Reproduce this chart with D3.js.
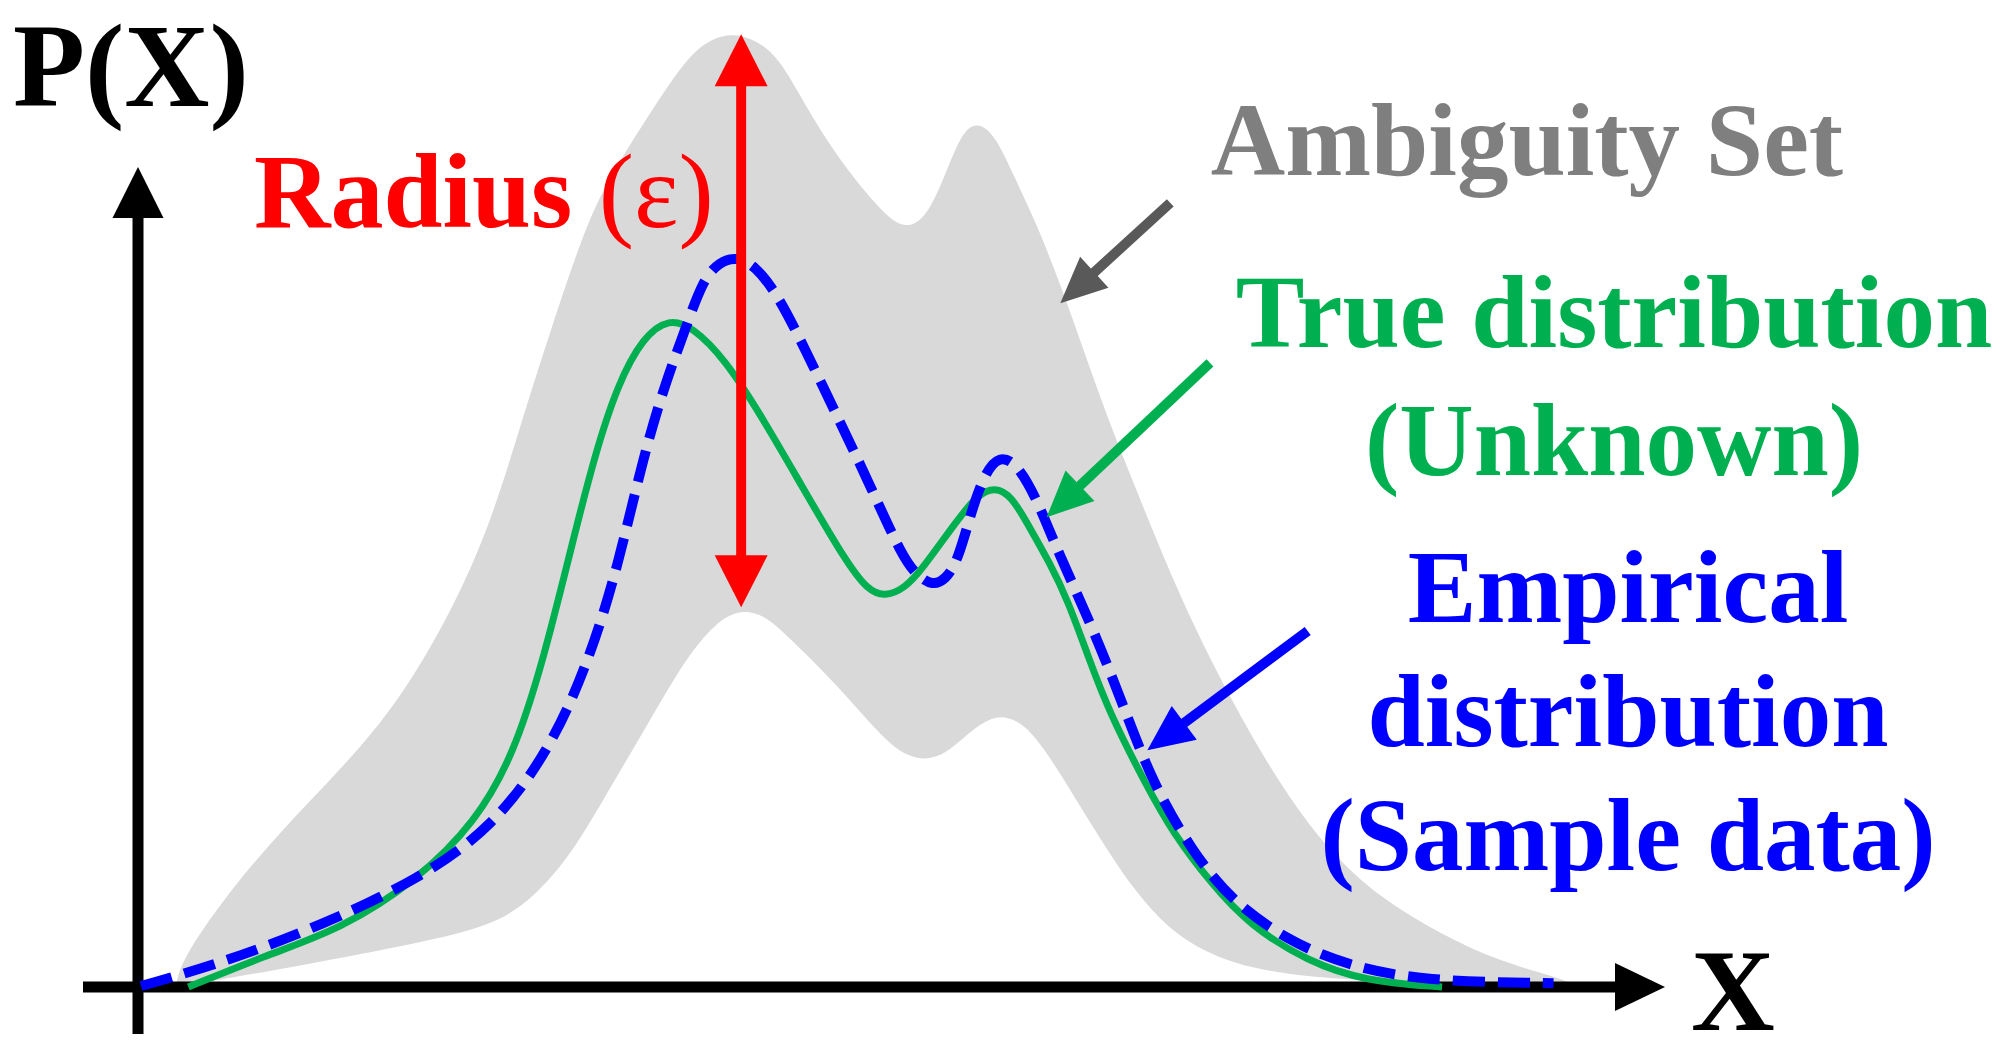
<!DOCTYPE html>
<html>
<head>
<meta charset="utf-8">
<script src="https://cdn.jsdelivr.net/npm/d3@7"></script>
<style>
  html, body { margin: 0; padding: 0; background: #fff; }
  svg { display: block; }
  text { font-family: "Liberation Serif", "Times New Roman", serif; font-weight: bold; }
</style>
</head>
<body>
<svg id="chart"></svg>
<script>
// values in axis units, 0-100 on both axes
const trueX = [3.3, 8.3, 13.3, 18.3, 22.1, 24.6, 26.6, 28.4, 29.9, 31.4, 33.1, 34.8, 36.3, 38.4, 40.9, 43.4, 46.4, 47.8, 48.9, 50.2, 51.3, 53.6, 55.0, 56.1, 57.2, 58.4, 59.7, 60.9, 62.2, 63.6, 66.0, 67.8, 70.3, 72.8, 76.6, 80.4, 85.4];
const trueY = [0, 3.3, 6.1, 11.3, 17.4, 24.5, 34.8, 46.6, 56.1, 63.6, 68.7, 70.6, 69.7, 66.4, 60.1, 53.1, 44.8, 41.9, 41.2, 42.1, 44.0, 49.2, 52.0, 52.8, 51.9, 48.5, 44.8, 40.8, 35.0, 29.0, 21.4, 16.2, 10.9, 6.5, 2.7, 0.6, 0];

const empX = [0.2, 5.8, 12.0, 18.3, 23.3, 27.1, 29.6, 31.4, 33.1, 34.6, 35.9, 37.0, 38.1, 39.2, 40.4, 41.9, 43.7, 45.6, 47.8, 50.1, 51.1, 52.0, 52.9, 53.7, 54.5, 55.4, 56.4, 57.6, 58.9, 60.2, 62.7, 64.8, 66.5, 69.0, 71.6, 75.3, 79.1, 84.2, 92.7];
const empY = [0.1, 2.7, 6.5, 11.3, 16.9, 25.4, 34.8, 44.2, 56.1, 64.1, 69.7, 74.7, 76.6, 77.1, 76.2, 73.1, 67.3, 60.9, 53.5, 45.2, 43.4, 42.4, 43.0, 45.1, 49.8, 54.1, 56.2, 55.2, 51.4, 46.1, 37.3, 28.5, 21.4, 14.4, 9.1, 4.9, 2.3, 0.6, 0.4];

const ambUpperX = [2.5, 2.8, 5.8, 9.6, 13.3, 17.1, 20.8, 23.3, 25.3, 27.1, 28.9, 30.3, 32.0, 34.1, 36.1, 37.6, 39.0, 40.5, 42.0, 43.7, 45.8, 48.4, 50.1, 51.6, 52.8, 53.9, 54.9, 56.1, 57.4, 58.9, 60.4, 61.9, 63.4, 65.2, 67.2, 69.2, 71.6, 74.1, 76.6, 79.1, 81.7, 85.4, 89.2, 93.0, 94.1];
const ambUpperY = [0.2, 2.7, 9.8, 16.9, 23.0, 30.1, 40.4, 49.9, 60.7, 69.7, 78.4, 83.8, 88.4, 93.7, 98.4, 100.2, 100.7, 100.0, 98.1, 93.1, 87.6, 82.4, 79.9, 81.1, 85.5, 90.1, 91.4, 90.1, 85.5, 80.4, 74.2, 67.4, 60.5, 53.2, 45.2, 37.9, 30.3, 23.2, 17.2, 12.6, 9.1, 5.5, 2.7, 1.0, 0.2];

const ambLowerX = [3.3, 10.8, 18.3, 23.3, 25.9, 28.4, 30.8, 33.4, 35.9, 37.9, 39.5, 41.1, 42.5, 45.8, 49.0, 50.6, 51.9, 53.2, 54.5, 55.8, 56.8, 58.0, 59.5, 61.5, 63.5, 65.3, 67.8, 71.6, 76.6, 81.7, 94.1];
const ambLowerY = [0.2, 2.3, 4.6, 6.5, 9.4, 14.0, 20.7, 27.8, 34.8, 38.6, 39.9, 39.2, 37.1, 31.9, 25.8, 24.2, 24.0, 25.0, 27.0, 28.4, 28.6, 27.8, 24.9, 19.6, 14.4, 10.1, 5.5, 2.3, 1.0, 0.6, 0.2];

// annotation anchors: [fromX, fromY, toX, toY] in axis units
const radiusArrow = [39.5, 40.1, 39.5, 100.6];
const ambiguityArrow = [67.6, 82.8, 60.4, 72.2];
const trueArrow = [70.2, 65.9, 59.5, 49.6];
const empArrow = [76.6, 37.6, 66.1, 25.0];

const ambiguityLabel = ["Ambiguity Set"];
const trueLabel = ["True distribution", "(Unknown)"];
const empLabel = ["Empirical", "distribution", "(Sample data)"];

const width = 2008, height = 1056;

const x = d3.scaleLinear().domain([0, 100]).range([138, 1665]);
const y = d3.scaleLinear().domain([0, 100]).range([987, 40]);

const svg = d3.select("#chart")
  .attr("width", width)
  .attr("height", height)
  .attr("viewBox", [0, 0, width, height]);

function arrowHead(g, x1, y1, x2, y2, color, headLen, headW) {
  const a = Math.atan2(y2 - y1, x2 - x1);
  const bx = x2 - headLen * Math.cos(a), by = y2 - headLen * Math.sin(a);
  const px = -Math.sin(a) * headW / 2, py = Math.cos(a) * headW / 2;
  g.append("path")
    .attr("d", `M${x2},${y2}L${bx + px},${by + py}L${bx - px},${by - py}Z`)
    .attr("fill", color);
  return [x2 - (headLen - 4) * Math.cos(a), y2 - (headLen - 4) * Math.sin(a)];
}

function arrow(g, x1, y1, x2, y2, color, lw, headLen, headW, both) {
  const end = arrowHead(g, x1, y1, x2, y2, color, headLen, headW);
  const start = both ? arrowHead(g, x2, y2, x1, y1, color, headLen, headW) : [x1, y1];
  g.append("line")
    .attr("x1", start[0]).attr("y1", start[1])
    .attr("x2", end[0]).attr("y2", end[1])
    .attr("stroke", color)
    .attr("stroke-width", lw);
}

// ambiguity set: grey under the upper bound, cleared under the lower bound
const under = d3.area()
  .x(d => x(d[0]))
  .y0(y(0))
  .y1(d => y(d[1]))
  .curve(d3.curveBasis);

svg.append("path")
  .attr("d", under(d3.zip(ambUpperX, ambUpperY)))
  .attr("fill", "#d9d9d9");

svg.append("path")
  .attr("d", under(d3.zip(ambLowerX, ambLowerY)))
  .attr("fill", "#fff");

// axes
const axes = svg.append("g");
arrow(axes, x(0), 1034, x(0), 167, "#000", 11, 51, 51);
arrow(axes, 83, y(0), x(100), y(0), "#000", 11, 50, 48);

const curve = d3.line()
  .x(d => x(d[0]))
  .y(d => y(d[1]))
  .curve(d3.curveBasis);

svg.append("path")
  .attr("d", curve(d3.zip(trueX, trueY)))
  .attr("fill", "none")
  .attr("stroke", "#00b050")
  .attr("stroke-width", 7);

svg.append("path")
  .attr("d", curve(d3.zip(empX, empY)))
  .attr("fill", "none")
  .attr("stroke", "#0000ff")
  .attr("stroke-width", 10)
  .attr("stroke-dasharray", "32 13");

// annotation arrows
const notes = svg.append("g");
arrow(notes, x(radiusArrow[0]), y(radiusArrow[1]), x(radiusArrow[2]), y(radiusArrow[3]), "#ff0000", 10, 52, 53, true);
arrow(notes, x(ambiguityArrow[0]), y(ambiguityArrow[1]), x(ambiguityArrow[2]), y(ambiguityArrow[3]), "#595959", 10, 46, 42);
arrow(notes, x(trueArrow[0]), y(trueArrow[1]), x(trueArrow[2]), y(trueArrow[3]), "#00b050", 10, 46, 42);
arrow(notes, x(empArrow[0]), y(empArrow[1]), x(empArrow[2]), y(empArrow[3]), "#0000ff", 10, 46, 42);

// text
svg.append("text")
  .attr("x", 13).attr("y", 106)
  .attr("font-size", 118)
  .attr("fill", "#000")
  .text("P(X)");

svg.append("text")
  .attr("x", 1691).attr("y", 1030)
  .attr("font-size", 116)
  .attr("fill", "#000")
  .text("X");

const rad = svg.append("text")
  .attr("x", 254).attr("y", 227)
  .attr("font-size", 106)
  .attr("fill", "#ff0000");
rad.append("tspan").text("Radius ");
rad.append("tspan").attr("font-weight", "normal").text("(ε)");

svg.append("text")
  .attr("x", 1527).attr("y", 175)
  .attr("text-anchor", "middle")
  .attr("font-size", 103)
  .attr("fill", "#7f7f7f")
  .text(ambiguityLabel[0]);

svg.append("g")
  .selectAll("text")
  .data(trueLabel)
  .join("text")
  .attr("x", 1614)
  .attr("y", (d, i) => 347 + i * 128)
  .attr("text-anchor", "middle")
  .attr("font-size", 103)
  .attr("fill", "#00b050")
  .text(d => d);

svg.append("g")
  .selectAll("text")
  .data(empLabel)
  .join("text")
  .attr("x", 1628)
  .attr("y", (d, i) => 622 + i * 124)
  .attr("text-anchor", "middle")
  .attr("font-size", 103)
  .attr("fill", "#0000ff")
  .text(d => d);
</script>
</body>
</html>
